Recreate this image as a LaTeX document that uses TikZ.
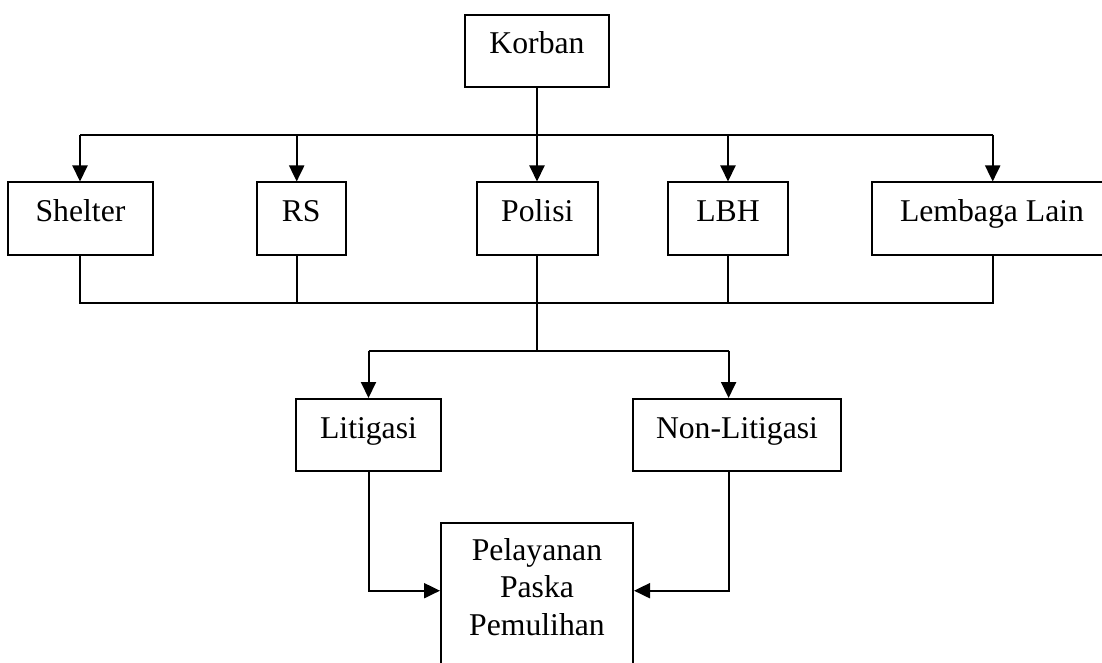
\documentclass[tikz,border=0pt]{standalone}
\usepackage{fontspec}
\setmainfont{Liberation Serif}
\usetikzlibrary{arrows.meta}
\begin{document}
\begin{tikzpicture}[x=1pt,y=-1pt,
  box/.style={draw, line width=2pt, inner sep=0pt, minimum height=72pt,
    text height=22pt, text depth=16pt, font=\fontsize{31.7}{38}\selectfont},
  txt/.style={inner sep=0pt, anchor=base, font=\fontsize{31.7}{38}\selectfont},
  conn/.style={line width=2pt},
  arr/.style={line width=2pt, -{Triangle[length=16pt,width=15pt]}}]
\useasboundingbox (0,0) rectangle (1102,663);
% boxes
\node[box, minimum width=144pt] (korban) at (537,51) {Korban};
\node[box, minimum width=145pt] (shelter) at (80.5,218.5) {Shelter};
\node[box, minimum width=89pt] (rs) at (301.2,218.5) {RS};
\node[box, minimum width=121pt] (polisi) at (537.3,218.5) {Polisi};
\node[box, minimum width=120pt] (lbh) at (728,218.5) {LBH};
\node[box, minimum width=240pt] (lain) at (992,218.5) {Lembaga Lain};
\node[box, minimum width=145pt] (lit) at (368.5,435) {Litigasi};
\node[box, minimum width=208pt] (nonlit) at (737,435) {Non-Litigasi};
\node[draw, line width=2pt, inner sep=0pt, minimum width=192pt, minimum height=200pt, anchor=north] (pel) at (537,522) {};
\node[txt] (pel1) at (537,560) {Pelayanan};
\node[txt] (pel2) at (537,597.7) {Paska};
\node[txt] (pel3) at (537,635) {Pemulihan};
% top bus
\coordinate (t1) at (80,134.7);
\coordinate (t2) at (296.7,134.7);
\coordinate (t3) at (537,134.7);
\coordinate (t4) at (728,134.7);
\coordinate (t5) at (992.7,134.7);
\draw[conn] (korban.south) -- (t3);
\draw[conn] (t1) -- (t5);
\draw[arr] (t1) -- (t1 |- shelter.north);
\draw[arr] (t2) -- (t2 |- rs.north);
\draw[arr] (t3) -- (t3 |- polisi.north);
\draw[arr] (t4) -- (t4 |- lbh.north);
\draw[arr] (t5) -- (t5 |- lain.north);
% bottom bus
\coordinate (b1) at (80,302.7);
\coordinate (b2) at (296.7,302.7);
\coordinate (b3) at (537,302.7);
\coordinate (b4) at (728,302.7);
\coordinate (b5) at (992.7,302.7);
\draw[conn] (b1 |- shelter.south) -- (b1) -- (b5) -- (b5 |- lain.south);
\draw[conn] (b2 |- rs.south) -- (b2);
\draw[conn] (b4 |- lbh.south) -- (b4);
% split to litigasi
\coordinate (s3) at (537,350.7);
\coordinate (s1) at (368.5,350.7);
\coordinate (s2) at (728.6,350.7);
\draw[conn] (b3 |- polisi.south) -- (s3);
\draw[conn] (s1) -- (s2);
\draw[arr] (s1) -- (s1 |- lit.north);
\draw[arr] (s2) -- (s2 |- nonlit.north);
% to pelayanan
\coordinate (l1) at (369,590.7);
\coordinate (r1) at (729,590.7);
\draw[arr] (l1 |- lit.south) -- (l1) -- (l1 -| pel.west);
\draw[arr] (r1 |- nonlit.south) -- (r1) -- (r1 -| pel.east);
\end{tikzpicture}
\end{document}
